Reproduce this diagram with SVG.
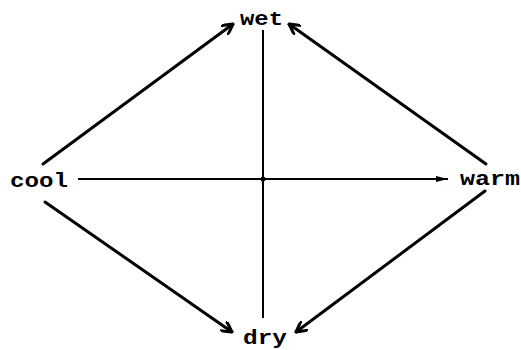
<svg xmlns="http://www.w3.org/2000/svg" width="521" height="350" viewBox="0 0 521 350">
<defs>
<marker id="open" viewBox="0 0 12 12" refX="11" refY="6" markerWidth="12" markerHeight="12" markerUnits="userSpaceOnUse" orient="auto">
<path d="M0,0 L11,6 L0,12" fill="none" stroke="#000" stroke-width="3" stroke-linecap="round" stroke-linejoin="round"/>
</marker>
<marker id="fill" viewBox="0 0 12 6" refX="12" refY="3" markerWidth="12" markerHeight="6" markerUnits="userSpaceOnUse" orient="auto">
<path d="M0,0 L12,3 L0,6 Z" fill="#000"/>
</marker>
</defs>
<style>
.lbl{font-family:"Liberation Mono","DejaVu Sans Mono",monospace;font-weight:bold;font-size:20px;fill:#000}
.arr{stroke:#000;stroke-width:3;fill:none;stroke-linecap:round;marker-end:url(#open)}
.axis{stroke:#000;stroke-width:2;fill:none}
</style>
<rect width="521" height="350" fill="#fff"/>
<g id="connectors">
<line class="arr" x1="43" y1="164" x2="233" y2="24"/>
<line class="arr" x1="486" y1="164" x2="289" y2="24"/>
<line class="arr" x1="45" y1="202" x2="232" y2="332"/>
<line class="arr" x1="485" y1="191" x2="296" y2="332"/>
<line class="axis" x1="78" y1="179" x2="448" y2="179" marker-end="url(#fill)"/>
<line class="axis" x1="263" y1="30" x2="263" y2="318"/>
<circle cx="263" cy="179" r="2.5" fill="#000"/>
</g>
<g id="wet"><text class="lbl" x="240" y="25" textLength="43" lengthAdjust="spacingAndGlyphs">wet</text></g>
<g id="dry"><text class="lbl" x="243" y="344" textLength="44" lengthAdjust="spacingAndGlyphs">dry</text></g>
<g id="cool"><text class="lbl" x="10" y="187" textLength="58" lengthAdjust="spacingAndGlyphs">cool</text></g>
<g id="warm"><text class="lbl" x="460" y="185" textLength="60" lengthAdjust="spacingAndGlyphs">warm</text></g>
</svg>
